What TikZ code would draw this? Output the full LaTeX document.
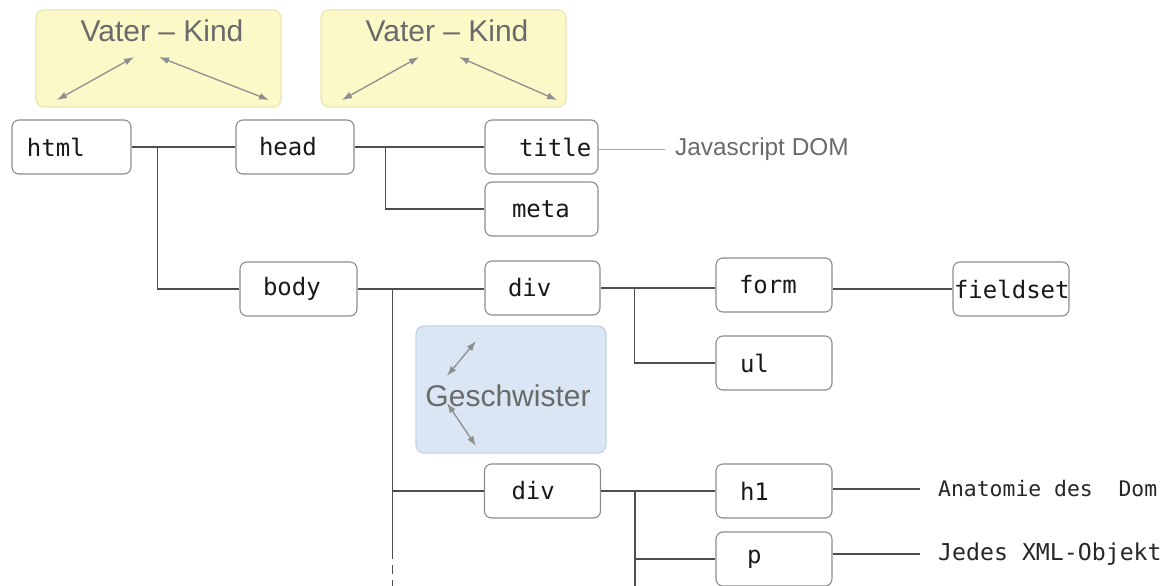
\documentclass[tikz,border=0pt]{standalone}
\usepackage{fontspec}
\setmainfont{Liberation Sans}
\setmonofont{DejaVu Sans Mono}
\usetikzlibrary{arrows.meta}
\definecolor{linec}{HTML}{4D4D4D}
\definecolor{boxc}{HTML}{8C8C8C}
\definecolor{yelfill}{HTML}{FCF9C9}
\definecolor{yeldraw}{HTML}{E9E6B2}
\definecolor{bluefill}{HTML}{DAE6F3}
\definecolor{bluedraw}{HTML}{C3D3E6}
\definecolor{arrc}{HTML}{8E8E8E}
\definecolor{labc}{HTML}{6A6A6A}
\begin{document}
\begin{tikzpicture}[x=1pt,y=-1pt,
  tag/.style={draw=boxc, line width=1.1pt, rounded corners=7pt, fill=white,
    text width=#1, minimum width=#1, align=left, minimum height=54pt, inner sep=0pt,
    font=\ttfamily\fontsize{24}{28}\selectfont, text=black!90},
  tag/.default=116pt,
  conn/.style={draw=linec, line width=1.8pt},
  area/.style={line width=1.2pt, rounded corners=8pt, inner sep=0pt},
  rel/.style={draw=arrc, line width=1.3pt, {Latex[length=10pt,width=7pt]}-{Latex[length=10pt,width=7pt]}},
  big/.style={font=\fontsize{30}{34}\selectfont, text=labc, inner sep=0pt},
  note/.style={font=\ttfamily\fontsize{21.4}{24}\selectfont, text=black!85, anchor=west, inner sep=0pt}
]
\useasboundingbox (0,0) rectangle (1162,586);

% highlight areas
\node[area, draw=yeldraw, fill=yelfill, minimum width=245pt, minimum height=97pt] (vk1) at (158.5,58.5) {};
\node[area, draw=yeldraw, fill=yelfill, minimum width=245pt, minimum height=97pt] (vk2) at (443.5,58.5) {};
\node[area, draw=bluedraw, fill=bluefill, minimum width=190pt, minimum height=127pt] (ge) at (511,389.5) {};

\node[big] (vk1t) at (162,31) {Vater – Kind};
\node[big] (vk2t) at (447,31) {Vater – Kind};
\node[big] (get) at (508,396) {Geschwister};

\coordinate (a1) at (57,100); \coordinate (a2) at (134,57);
\coordinate (a3) at (159,57); \coordinate (a4) at (269,100);
\coordinate (b1) at (342,100); \coordinate (b2) at (419,57);
\coordinate (b3) at (459,57); \coordinate (b4) at (557,100);
\coordinate (g1) at (447,376); \coordinate (g2) at (476,341);
\coordinate (g3) at (447,403); \coordinate (g4) at (476,446);
\draw[rel] (a1) -- (a2);
\draw[rel] (a3) -- (a4);
\draw[rel] (b1) -- (b2);
\draw[rel] (b3) -- (b4);
\draw[rel] (g1) -- (g2);
\draw[rel] (g3) -- (g4);

% tag nodes
\node[tag=119pt] (html) at (71.5,147) {\hspace*{15pt}html};
\node[tag=118pt] (head) at (295,147) {\hspace*{23pt}head};
\node[tag=113pt] (title) at (541.5,147) {\hspace*{34pt}title};
\node[tag=113pt] (meta) at (541.5,209) {\hspace*{27pt}meta};
\node[tag=117pt] (body) at (298.5,289) {\hspace*{23pt}body};
\node[tag=115pt] (div1) at (542.5,288) {\hspace*{23pt}div};
\node[tag] (form) at (774,285) {\hspace*{23pt}form};
\node[tag] (fieldset) at (1011,289) {\hspace*{1pt}fieldset};
\node[tag] (ul) at (774,363) {\hspace*{24pt}ul};
\node[tag] (div2) at (542.5,491) {\hspace*{27pt}div};
\node[tag] (h1) at (774,491) {\hspace*{24pt}h1};
\node[tag] (p) at (774,559) {\hspace*{31pt}p};

% connectors
\draw[conn] (html.east) -- (head.west);
\draw[conn] ([xshift=26pt]html.east) |- (body.west);
\draw[conn] (head.east) -- (title.west);
\draw[conn] ([xshift=31pt]head.east) |- (meta.west);
\draw[conn] (body.east) -- (body.east -| div1.west);
\coordinate (bj) at ([xshift=35pt]body.east);
\coordinate (bend) at (bj |- 0,550);
\coordinate (bdash) at (bj |- 0,586);
\draw[conn] (bj) -- (bend);
\draw[conn] (bj |- div2.west) -- (div2.west);
\draw[conn, dash pattern=on 9pt off 6pt] (bend) -- (bdash);
\draw[conn] (div1.east) -- (div1.east -| form.west);
\draw[conn] ([xshift=34pt]div1.east) |- (ul.west);
\draw[conn] (form.east |- fieldset.west) -- (fieldset.west);
\draw[conn] (div2.east) -- (h1.west);
\coordinate (dj) at ([xshift=34pt]div2.east);
\draw[conn] (dj) -- (dj |- 0,586);
\draw[conn] (dj |- p.west) -- (p.west);

% annotations
\node[font=\fontsize{24.4}{28}\selectfont, text=labc, anchor=west, inner sep=0pt] (js) at (675,149) {Javascript DOM};
\coordinate (jsl) at (665,149);
\draw[draw=black!35, line width=1pt] (title.east |- jsl) -- (jsl);

\node[note] (an) at (938,489) {Anatomie des\ \ Dom};
\node[note, font=\ttfamily\fontsize{23.2}{26}\selectfont] (je) at (938,554) {Jedes XML-Objekt};
\coordinate (anl) at (920,489);
\coordinate (jel) at (920,554);
\draw[conn] (h1.east |- anl) -- (anl);
\draw[conn] (p.east |- jel) -- (jel);
\end{tikzpicture}
\end{document}
